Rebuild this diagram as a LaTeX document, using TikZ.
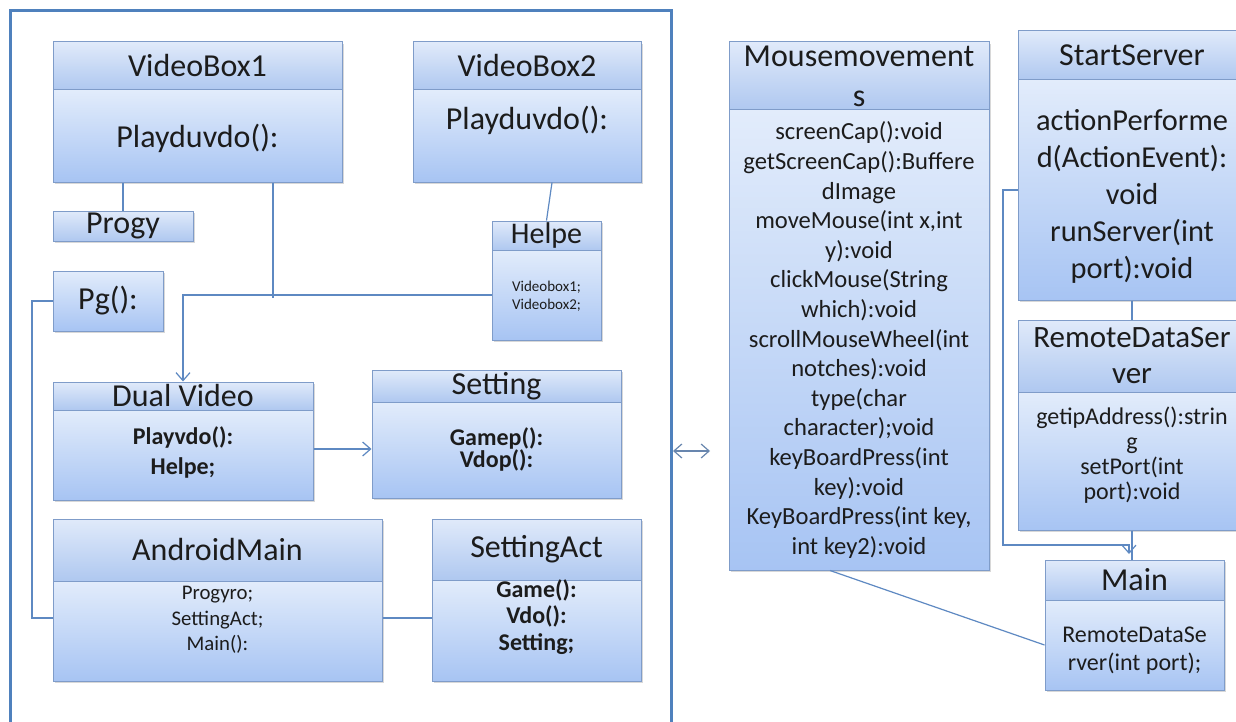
\documentclass[tikz,border=0pt]{standalone}
\usepackage{fontspec}
\setmainfont{Carlito}
\usetikzlibrary{shadows,arrows.meta}

\definecolor{frameblue}{HTML}{4F81BD}
\definecolor{boxedge}{HTML}{7F9CC9}
\definecolor{headtop}{HTML}{E0EAFA}
\definecolor{headbot}{HTML}{AFC8F0}
\definecolor{bodytop}{HTML}{E2ECFB}
\definecolor{bodybot}{HTML}{A7C4F3}
\definecolor{linkblue}{HTML}{5E89C2}
\definecolor{inkblack}{HTML}{1C1C1C}

\tikzset{
  classhead/.style={draw=boxedge, line width=0.5pt, top color=headtop, bottom color=headbot,
    inner sep=0pt, align=center, text=inkblack, font=\fontsize{16}{20}\selectfont,
    drop shadow={shadow xshift=1.2pt, shadow yshift=-1.2pt, opacity=0.3}},
  classbody/.style={classhead, top color=bodytop, bottom color=bodybot},
  memb/.style={inner sep=0pt, align=center, text=inkblack},
  link/.style={draw=linkblue, line width=0.6pt, >={Straight Barb[length=4pt,width=7pt]}},
}

\begin{document}
\begin{tikzpicture}[x=0.5pt,y=-0.5pt]

            \useasboundingbox (0,0) rectangle (1236,722);
            \clip (0,0) rectangle (1236,722);
            \fill[white] (0,0) rectangle (1236,722);

            % android side
            \draw[frameblue, line width=1.5pt] (10,11) rectangle (671,780);

            \node[classhead, minimum width=144.5pt, minimum height=24pt] (vb1h) at (197.5,66) {VideoBox1};
            \node[classbody, minimum width=144.5pt, minimum height=46pt] (vb1b) at (197.5,136) {};
            \node[memb, font=\fontsize{16}{20}\selectfont] (vb1t) at (197.5,138) {Playduvdo():};

            \node[classhead, minimum width=114pt, minimum height=24pt] (vb2h) at (527,66) {VideoBox2};
            \node[classbody, minimum width=114pt, minimum height=46pt] (vb2b) at (527,136) {};
            \node[memb, font=\fontsize{16}{20}\selectfont] (vb2t) at (527,120) {Playduvdo():};

            \node[classhead, minimum width=70pt, minimum height=15pt] (prg) at (123,226) {Progy};
            \node[classbody, minimum width=55pt, minimum height=30pt] (pg) at (108,301) {Pg():};

            \node[classhead, minimum width=54.5pt, minimum height=14.5pt, font=\fontsize{15}{18}\selectfont] (hlph) at (546.5,235.5) {Helpe};
            \node[classbody, minimum width=54.5pt, minimum height=45pt] (hlpb) at (546.5,295) {};
            \node[memb, font=\fontsize{7.5}{9}\selectfont] (hlpt) at (546.5,296) {Videobox1;\\Videobox2;};

            \node[classhead, minimum width=130pt, minimum height=14pt] (dvh) at (183,396) {Dual Video};
            \node[classbody, minimum width=130pt, minimum height=45pt] (dvb) at (183,455) {};
            \node[memb, font=\fontsize{12}{15}\bfseries] (dvt) at (183,452) {Playvdo():\\Helpe;};

            \node[classhead, minimum width=124.5pt, minimum height=16pt] (seth) at (496.5,386) {Setting};
            \node[classbody, minimum width=124.5pt, minimum height=48pt] (setb) at (496.5,450) {};
            \node[memb, font=\fontsize{12}{11}\bfseries] (sett) at (496.5,449) {Gamep():\\Vdop():};

            \node[classhead, minimum width=164.5pt, minimum height=31pt] (amh) at (217.5,550) {AndroidMain};
            \node[classbody, minimum width=164.5pt, minimum height=50pt] (amb) at (217.5,631) {};
            \node[memb, font=\fontsize{10.4}{12.75}\selectfont] (amt) at (217.5,620) {Progyro;\\SettingAct;\\Main():};

            \node[classhead, minimum width=104.5pt, minimum height=30.5pt] (sah) at (536.5,549.5) {SettingAct};
            \node[classbody, minimum width=104.5pt, minimum height=50.5pt] (sab) at (536.5,630.5) {};
            \node[memb, font=\fontsize{12}{13.25}\bfseries] (sat) at (536.5,617) {Game():\\Vdo():\\Setting;};

            % pc side
            \node[classhead, minimum width=130pt, minimum height=34pt] (mmh) at (859,76) {Mousemovement\\s};
            \node[classbody, minimum width=130pt, minimum height=230pt] (mmb) at (859,340) {};
            \node[memb, font=\fontsize{12.3}{14.8}\selectfont] (mmt) at (859,340)
                {screenCap():void\\getScreenCap():Buffere\\dImage\\moveMouse(int x,int\\y):void\\
                 clickMouse(String\\which):void\\scrollMouseWheel(int\\notches):void\\type(char\\
                 character);void\\keyBoardPress(int\\key):void\\KeyBoardPress(int key,\\int key2):void};

            \node[classhead, minimum width=114pt, minimum height=24.5pt] (ssh) at (1132,55.5) {StartServer};
            \node[classbody, minimum width=114pt, minimum height=110pt] (ssb) at (1132,190) {};
            \node[memb, font=\fontsize{15.2}{18.5}\selectfont] (sst) at (1132,196)
                {actionPerforme\\d(ActionEvent):\\void\\runServer(int\\port):void};

            \node[classhead, minimum width=114pt, minimum height=36pt, font=\fontsize{15.5}{18}\selectfont] (rdsh) at (1132,356) {RemoteDataSer\\ver};
            \node[classbody, minimum width=114pt, minimum height=69pt] (rdsb) at (1132,461) {};
            \node[memb, font=\fontsize{12}{12.5}\selectfont] (rdst) at (1132,455)
                {getipAddress():strin\\g\\setPort(int\\port):void};

            \node[classhead, minimum width=89.5pt, minimum height=20pt] (mnh) at (1134.5,580) {Main};
            \node[classbody, minimum width=89.5pt, minimum height=45pt] (mnb) at (1134.5,645) {};
            \node[memb, font=\fontsize{12}{14}\selectfont] (mnt) at (1134.5,651) {RemoteDataSe\\rver(int port);};

            % connectors
            \coordinate (vb1end) at (273,298);
            \coordinate (dvin) at (183,295);
            \coordinate (pgl) at (32,301);
            \coordinate (bl) at (673,451);
            \coordinate (br) at (710,451);
            \coordinate (ssl) at (1003,190);
            \coordinate (ssturn) at (1129,545);
            \coordinate (mnin) at (1129,554);

            \draw[link] (prg.north) -- (prg.north |- vb1b.south);
            \draw[link] (vb1end |- vb1b.south) -- (vb1end);
            \draw[link,->] (hlpb.west) -- (dvin) -- (dvin |- dvh.north);
            \draw[link] ([xshift=12.5pt]vb2b.south) -- (hlph.north);
            \draw[link] (pg.west) -- (pgl) |- ([yshift=6.5pt]amb.west);
            \draw[link,->] ([yshift=3pt]dvb.east) -- ([yshift=0.5pt]setb.west);
            \draw[link] ([yshift=6.5pt]amb.east) -- ([yshift=6.25pt]sab.west);
            \draw[link,<->,draw=linkblue!70!gray] (bl) -- (br);
            \draw[link,->] (ssb.west) -- (ssl) |- (ssturn) -- (mnin);
            \draw[link] (ssb.south) -- (rdsh.north);
            \draw[link] (rdsb.south) -- (rdsb.south |- mnh.north);
            \draw[link] ([xshift=-14.5pt]mmb.south) -- (mnb.west);

\end{tikzpicture}
\end{document}
